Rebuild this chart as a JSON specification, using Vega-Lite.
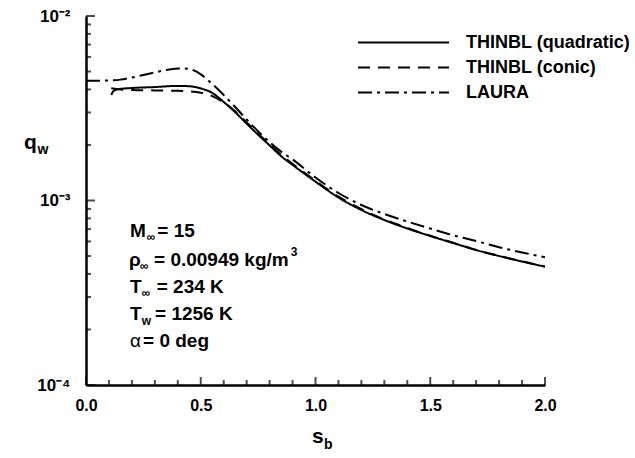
{
  "$schema": "https://vega.github.io/schema/vega-lite/v6.json",
  "width": 459,
  "height": 369,
  "autosize": {"type": "none"},
  "padding": {"left": 86, "top": 16, "right": 90, "bottom": 73},
  "background": "white",
  "config": {
    "view": {"stroke": null},
    "font": "Liberation Sans",
    "text": {"font": "Liberation Sans", "color": "black"}
  },
  "datasets": {
    "curves": [
      {"series": "THINBL (quadratic)", "s": 0.11, "q": 0.00373},
      {"series": "THINBL (quadratic)", "s": 0.12, "q": 0.00392},
      {"series": "THINBL (quadratic)", "s": 0.14, "q": 0.00401},
      {"series": "THINBL (quadratic)", "s": 0.2, "q": 0.00407},
      {"series": "THINBL (quadratic)", "s": 0.3, "q": 0.00412},
      {"series": "THINBL (quadratic)", "s": 0.4, "q": 0.00418},
      {"series": "THINBL (quadratic)", "s": 0.45, "q": 0.00416},
      {"series": "THINBL (quadratic)", "s": 0.5, "q": 0.00405},
      {"series": "THINBL (quadratic)", "s": 0.55, "q": 0.00383},
      {"series": "THINBL (quadratic)", "s": 0.6, "q": 0.00342},
      {"series": "THINBL (quadratic)", "s": 0.65, "q": 0.00301},
      {"series": "THINBL (quadratic)", "s": 0.7, "q": 0.00261},
      {"series": "THINBL (quadratic)", "s": 0.75, "q": 0.00227},
      {"series": "THINBL (quadratic)", "s": 0.8, "q": 0.00199},
      {"series": "THINBL (quadratic)", "s": 0.85, "q": 0.00174},
      {"series": "THINBL (quadratic)", "s": 0.9, "q": 0.00156},
      {"series": "THINBL (quadratic)", "s": 1.0, "q": 0.001265},
      {"series": "THINBL (quadratic)", "s": 1.1, "q": 0.001038},
      {"series": "THINBL (quadratic)", "s": 1.2, "q": 0.000888},
      {"series": "THINBL (quadratic)", "s": 1.3, "q": 0.000784},
      {"series": "THINBL (quadratic)", "s": 1.4, "q": 0.000705},
      {"series": "THINBL (quadratic)", "s": 1.5, "q": 0.000642},
      {"series": "THINBL (quadratic)", "s": 1.6, "q": 0.000588},
      {"series": "THINBL (quadratic)", "s": 1.7, "q": 0.000539},
      {"series": "THINBL (quadratic)", "s": 1.8, "q": 0.0005},
      {"series": "THINBL (quadratic)", "s": 1.9, "q": 0.000467},
      {"series": "THINBL (quadratic)", "s": 2.0, "q": 0.000438},
      {"series": "THINBL (conic)", "s": 0.11, "q": 0.00406},
      {"series": "THINBL (conic)", "s": 0.15, "q": 0.004},
      {"series": "THINBL (conic)", "s": 0.2, "q": 0.00397},
      {"series": "THINBL (conic)", "s": 0.3, "q": 0.00395},
      {"series": "THINBL (conic)", "s": 0.4, "q": 0.00393},
      {"series": "THINBL (conic)", "s": 0.5, "q": 0.00384},
      {"series": "THINBL (conic)", "s": 0.55, "q": 0.00368},
      {"series": "THINBL (conic)", "s": 0.6, "q": 0.0034},
      {"series": "THINBL (conic)", "s": 0.65, "q": 0.00305},
      {"series": "THINBL (conic)", "s": 0.7, "q": 0.00265},
      {"series": "THINBL (conic)", "s": 0.75, "q": 0.0023},
      {"series": "THINBL (conic)", "s": 0.8, "q": 0.00202},
      {"series": "THINBL (conic)", "s": 0.85, "q": 0.00177},
      {"series": "THINBL (conic)", "s": 0.9, "q": 0.00158},
      {"series": "THINBL (conic)", "s": 1.0, "q": 0.00128},
      {"series": "THINBL (conic)", "s": 1.1, "q": 0.00105},
      {"series": "THINBL (conic)", "s": 1.2, "q": 0.000899},
      {"series": "THINBL (conic)", "s": 1.3, "q": 0.000789},
      {"series": "THINBL (conic)", "s": 1.4, "q": 0.00071},
      {"series": "THINBL (conic)", "s": 1.5, "q": 0.000644},
      {"series": "THINBL (conic)", "s": 1.6, "q": 0.00059},
      {"series": "THINBL (conic)", "s": 1.7, "q": 0.00054},
      {"series": "THINBL (conic)", "s": 1.8, "q": 0.000501},
      {"series": "THINBL (conic)", "s": 1.9, "q": 0.000468},
      {"series": "THINBL (conic)", "s": 2.0, "q": 0.000439},
      {"series": "LAURA", "s": 0.0, "q": 0.00446},
      {"series": "LAURA", "s": 0.05, "q": 0.00446},
      {"series": "LAURA", "s": 0.1, "q": 0.00447},
      {"series": "LAURA", "s": 0.15, "q": 0.00452},
      {"series": "LAURA", "s": 0.2, "q": 0.00464},
      {"series": "LAURA", "s": 0.25, "q": 0.00479},
      {"series": "LAURA", "s": 0.3, "q": 0.00494},
      {"series": "LAURA", "s": 0.35, "q": 0.0051},
      {"series": "LAURA", "s": 0.4, "q": 0.00519},
      {"series": "LAURA", "s": 0.43, "q": 0.0052},
      {"series": "LAURA", "s": 0.47, "q": 0.00507},
      {"series": "LAURA", "s": 0.5, "q": 0.00483},
      {"series": "LAURA", "s": 0.55, "q": 0.00428},
      {"series": "LAURA", "s": 0.6, "q": 0.00373},
      {"series": "LAURA", "s": 0.65, "q": 0.00321},
      {"series": "LAURA", "s": 0.7, "q": 0.00275},
      {"series": "LAURA", "s": 0.75, "q": 0.00237},
      {"series": "LAURA", "s": 0.8, "q": 0.00207},
      {"series": "LAURA", "s": 0.85, "q": 0.00184},
      {"series": "LAURA", "s": 0.9, "q": 0.00167},
      {"series": "LAURA", "s": 1.0, "q": 0.001332},
      {"series": "LAURA", "s": 1.1, "q": 0.001098},
      {"series": "LAURA", "s": 1.2, "q": 0.000945},
      {"series": "LAURA", "s": 1.3, "q": 0.000845},
      {"series": "LAURA", "s": 1.4, "q": 0.000769},
      {"series": "LAURA", "s": 1.5, "q": 0.000705},
      {"series": "LAURA", "s": 1.6, "q": 0.000648},
      {"series": "LAURA", "s": 1.7, "q": 0.000603},
      {"series": "LAURA", "s": 1.8, "q": 0.000558},
      {"series": "LAURA", "s": 1.9, "q": 0.000523},
      {"series": "LAURA", "s": 2.0, "q": 0.000492}
    ],
    "xMinor": [
      {"s": 0.1}, {"s": 0.2}, {"s": 0.3}, {"s": 0.4}, {"s": 0.6}, {"s": 0.7}, {"s": 0.8}, {"s": 0.9},
      {"s": 1.1}, {"s": 1.2}, {"s": 1.3}, {"s": 1.4}, {"s": 1.6}, {"s": 1.7}, {"s": 1.8}, {"s": 1.9}
    ],
    "xMajor": [
      {"s": 0.0}, {"s": 0.5}, {"s": 1.0}, {"s": 1.5}, {"s": 2.0}
    ],
    "yMinor": [
      {"q": 0.0002}, {"q": 0.0003}, {"q": 0.0004}, {"q": 0.0005}, {"q": 0.0006}, {"q": 0.0007}, {"q": 0.0008}, {"q": 0.0009},
      {"q": 0.002}, {"q": 0.003}, {"q": 0.004}, {"q": 0.005}, {"q": 0.006}, {"q": 0.007}, {"q": 0.008}, {"q": 0.009}
    ],
    "yMajor": [
      {"q": 0.0001}, {"q": 0.001}, {"q": 0.01}
    ],
    "mainText": [
      {"s": 0.1917, "q": 0.000637, "t": "M"},
      {"s": 0.3107, "q": 0.000637, "t": "= 15"},
      {"s": 0.1874, "q": 0.000442, "t": "ρ"},
      {"s": 0.2963, "q": 0.000442, "t": "= 0.00949 kg/m"},
      {"s": 0.1917, "q": 0.0003165, "t": "T"},
      {"s": 0.3081, "q": 0.0003165, "t": "= 234 K"},
      {"s": 0.1917, "q": 0.000225, "t": "T"},
      {"s": 0.3007, "q": 0.000225, "t": "= 1256 K"},
      {"s": 0.2484, "q": 0.0001613, "t": "= 0 deg"}
    ],
    "smallText": [
      {"s": 0.2645, "q": 0.000603, "t": "∞"},
      {"s": 0.2353, "q": 0.00042, "t": "∞"},
      {"s": 0.8919, "q": 0.0005, "t": "3"},
      {"s": 0.2427, "q": 0.0003, "t": "∞"},
      {"s": 0.2427, "q": 0.0002114, "t": "w"}
    ],
    "alphaText": [
      {"s": 0.1917, "q": 0.0001613, "t": "α"}
    ],
    "titleText": [
      {"s": -0.2702, "q": 0.001902, "t": "q"},
      {"s": 0.9847, "q": 0.0000485, "t": "s"}
    ],
    "titleSub": [
      {"s": -0.2113, "q": 0.001786, "t": "w"},
      {"s": 1.037, "q": 0.000045, "t": "b"}
    ]
  },
  "layer": [
    {
      "data": {"name": "curves"},
      "mark": {"type": "line", "color": "black", "strokeWidth": 2, "interpolate": "monotone", "clip": true},
      "encoding": {
        "x": {
          "field": "s", "type": "quantitative",
          "scale": {"domain": [0, 2], "nice": false, "zero": false},
          "axis": {
            "orient": "bottom",
            "title": null,
            "grid": false,
            "values": [0, 0.5, 1.0, 1.5, 2.0],
            "format": ".1f",
            "ticks": false,
            "domainColor": "black",
            "domainWidth": 2.5,
            "labelFont": "Liberation Sans",
            "labelFontWeight": "bold",
            "labelFontSize": 16,
            "labelColor": "black",
            "labelPadding": 12,
            "labelOverlap": false,
            "labelFlush": false,
            "labelBound": false
          }
        },
        "y": {
          "field": "q", "type": "quantitative",
          "scale": {"type": "log", "domain": [0.0001, 0.01], "nice": false},
          "axis": {
            "orient": "left",
            "title": null,
            "grid": false,
            "values": [0.0001, 0.001, 0.01],
            "labelExpr": "round(log(datum.value)/LN10) == -2 ? '10⁻²' : (round(log(datum.value)/LN10) == -3 ? '10⁻³' : '10⁻⁴')",
            "ticks": false,
            "domainColor": "black",
            "domainWidth": 2.5,
            "labelFont": "Liberation Sans",
            "labelFontWeight": "bold",
            "labelFontSize": 17,
            "labelColor": "black",
            "labelPadding": 16,
            "labelOverlap": false,
            "labelFlush": false,
            "labelBound": false
          }
        },
        "strokeDash": {
          "field": "series", "type": "nominal",
          "scale": {
            "domain": ["THINBL (quadratic)", "THINBL (conic)", "LAURA"],
            "range": [[1, 0], [12, 8], [14, 5, 3, 5]]
          },
          "legend": {
            "title": null,
            "orient": "none",
            "legendX": 271,
            "legendY": 14,
            "symbolType": "stroke",
            "symbolSize": 8281,
            "symbolStrokeWidth": 2,
            "symbolStrokeColor": "black",
            "clipHeight": 25,
            "rowPadding": 0,
            "labelOffset": 16,
            "labelFont": "Liberation Sans",
            "labelFontWeight": "bold",
            "labelFontSize": 18,
            "labelColor": "black",
            "labelLimit": 400
          }
        }
      }
    },
    {
      "data": {"name": "xMinor"},
      "mark": {"type": "tick", "orient": "vertical", "color": "black", "size": 5, "thickness": 2, "yOffset": -2.5},
      "encoding": {
        "x": {"field": "s", "type": "quantitative"},
        "y": {"datum": 0.0001, "type": "quantitative"}
      }
    },
    {
      "data": {"name": "xMajor"},
      "mark": {"type": "tick", "orient": "vertical", "color": "black", "size": 8, "thickness": 2, "yOffset": -4},
      "encoding": {
        "x": {"field": "s", "type": "quantitative"},
        "y": {"datum": 0.0001, "type": "quantitative"}
      }
    },
    {
      "data": {"name": "yMinor"},
      "mark": {"type": "tick", "orient": "horizontal", "color": "black", "size": 5, "thickness": 2, "xOffset": 2.5},
      "encoding": {
        "x": {"datum": 0, "type": "quantitative"},
        "y": {"field": "q", "type": "quantitative"}
      }
    },
    {
      "data": {"name": "yMajor"},
      "mark": {"type": "tick", "orient": "horizontal", "color": "black", "size": 9, "thickness": 2, "xOffset": 4.5},
      "encoding": {
        "x": {"datum": 0, "type": "quantitative"},
        "y": {"field": "q", "type": "quantitative"}
      }
    },
    {
      "data": {"name": "mainText"},
      "mark": {"type": "text", "align": "left", "baseline": "alphabetic", "fontSize": 19, "fontWeight": "bold"},
      "encoding": {
        "x": {"field": "s", "type": "quantitative"},
        "y": {"field": "q", "type": "quantitative"},
        "text": {"field": "t"}
      }
    },
    {
      "data": {"name": "alphaText"},
      "mark": {"type": "text", "align": "left", "baseline": "alphabetic", "fontSize": 19, "fontWeight": "normal"},
      "encoding": {
        "x": {"field": "s", "type": "quantitative"},
        "y": {"field": "q", "type": "quantitative"},
        "text": {"field": "t"}
      }
    },
    {
      "data": {"name": "smallText"},
      "mark": {"type": "text", "align": "left", "baseline": "alphabetic", "fontSize": 12, "fontWeight": "bold"},
      "encoding": {
        "x": {"field": "s", "type": "quantitative"},
        "y": {"field": "q", "type": "quantitative"},
        "text": {"field": "t"}
      }
    },
    {
      "data": {"name": "titleText"},
      "mark": {"type": "text", "align": "left", "baseline": "alphabetic", "fontSize": 21, "fontWeight": "bold"},
      "encoding": {
        "x": {"field": "s", "type": "quantitative"},
        "y": {"field": "q", "type": "quantitative"},
        "text": {"field": "t"}
      }
    },
    {
      "data": {"name": "titleSub"},
      "mark": {"type": "text", "align": "left", "baseline": "alphabetic", "fontSize": 14, "fontWeight": "bold"},
      "encoding": {
        "x": {"field": "s", "type": "quantitative"},
        "y": {"field": "q", "type": "quantitative"},
        "text": {"field": "t"}
      }
    }
  ]
}
